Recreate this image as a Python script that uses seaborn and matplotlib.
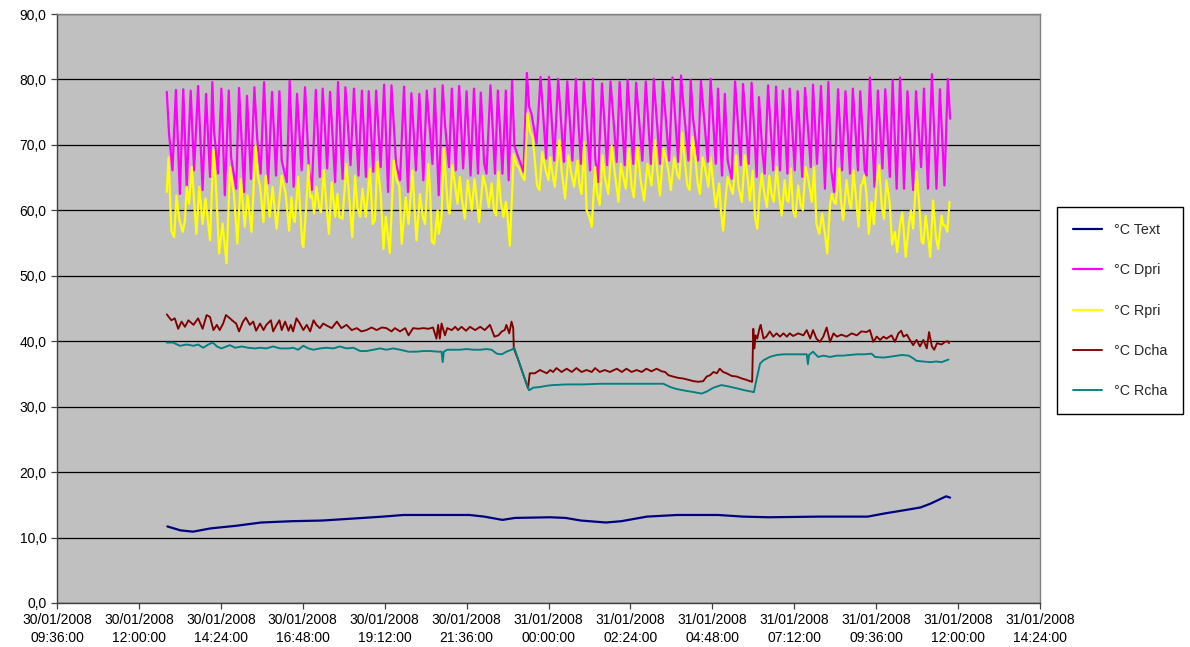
import pandas as pd
import matplotlib
matplotlib.use("Agg")
import matplotlib.pyplot as plt
import matplotlib.dates as mdates
from matplotlib.ticker import FuncFormatter
from matplotlib.lines import Line2D
import seaborn as sns

# Time origin: every time below is minutes after 30/01/2008 12:00:00
T0 = pd.Timestamp("2008-01-30 12:00:00")

SERIES = ["°C Text", "°C Dpri", "°C Rpri", "°C Dcha", "°C Rcha"]
COLORS = ["#000080", "#FF00FF", "#FFFF00", "#800000", "#008080"]
WIDTHS = [1.6, 1.6, 1.6, 1.35, 1.35]

# Outdoor temperature
TEXT = [(50, 11.7), (73, 11.1), (95, 10.9), (126, 11.4), (171, 11.8), (215, 12.3), (269, 12.5),
        (322, 12.6), (376, 12.9), (429, 13.2), (465, 13.45), (527, 13.45), (581, 13.45), (607, 13.2),
        (639, 12.7), (661, 13.0), (723, 13.1), (750, 13.0), (777, 12.6), (821, 12.3), (848, 12.5),
        (893, 13.2), (946, 13.45), (1018, 13.45), (1062, 13.2), (1107, 13.1), (1196, 13.2),
        (1281, 13.2), (1312, 13.7), (1347, 14.2), (1374, 14.6), (1392, 15.2), (1414, 16.1),
        (1419, 16.3), (1426, 16.1)]

# Primary circuit, supply
DPRI = [(49, 78.1), (53, 71.7), (59, 66.1), (65, 78.4), (72, 62.5), (78, 78.5), (84, 63.6), (91, 78.3),
        (97, 66.1), (104, 79.0), (112, 63.1), (118, 77.8), (125, 65.1), (129, 79.6), (132, 72.2),
        (139, 65.6), (145, 78.6), (151, 62.3), (158, 78.3), (162, 68.1), (171, 63.3), (176, 78.7),
        (185, 62.8), (190, 77.5), (197, 64.8), (203, 78.8), (208, 70.9), (214, 65.6), (220, 79.6),
        (227, 64.1), (234, 78.1), (241, 65.3), (247, 78.2), (251, 67.6), (260, 64.3), (265, 79.8),
        (272, 63.6), (278, 77.8), (286, 66.1), (292, 78.8), (299, 66.1), (304, 63.1), (311, 78.4),
        (318, 65.1), (323, 78.6), (331, 66.4), (336, 78.1), (345, 64.3), (350, 79.6), (353, 73.7),
        (358, 64.8), (363, 78.8), (372, 66.9), (378, 78.6), (386, 65.3), (392, 78.3), (399, 65.1),
        (404, 78.2), (412, 65.9), (417, 78.3), (425, 66.6), (431, 79.2), (438, 62.8), (444, 79.1),
        (452, 67.1), (459, 64.6), (466, 78.9), (473, 62.8), (479, 77.9), (487, 66.1), (493, 77.8),
        (500, 64.6), (506, 78.3), (516, 67.1), (520, 78.6), (527, 62.3), (534, 79.1), (538, 73.2),
        (545, 66.6), (550, 78.6), (557, 66.1), (563, 79.0), (570, 66.4), (576, 78.2), (583, 65.3),
        (589, 78.6), (596, 65.6), (601, 78.0), (607, 67.1), (611, 65.6), (618, 79.1), (626, 65.6),
        (631, 78.3), (639, 65.6), (645, 78.3), (650, 64.6), (656, 79.8), (660, 69.9), (667, 68.1),
        (676, 65.9), (682, 81.0), (686, 75.8), (690, 74.8), (699, 70.2), (706, 80.4), (716, 67.9),
        (721, 80.4), (730, 67.6), (737, 80.1), (747, 67.4), (753, 79.7), (762, 67.6), (768, 80.1),
        (777, 67.1), (782, 79.7), (787, 73.7), (793, 66.1), (798, 80.1), (802, 68.1), (807, 64.3),
        (814, 79.4), (823, 66.9), (829, 79.7), (840, 67.4), (845, 79.6), (854, 66.9), (859, 79.9),
        (869, 67.1), (874, 79.5), (885, 67.6), (891, 79.7), (900, 67.1), (905, 80.1), (916, 67.1),
        (921, 79.7), (932, 67.6), (938, 80.3), (948, 67.4), (953, 80.6), (958, 75.3), (966, 67.6),
        (970, 79.9), (974, 74.2), (983, 67.6), (988, 79.8), (1000, 67.4), (1005, 80.1), (1014, 67.1),
        (1018, 78.6), (1025, 65.3), (1030, 77.8), (1035, 67.6), (1042, 64.8), (1048, 79.7),
        (1058, 66.9), (1062, 79.3), (1072, 67.1), (1077, 79.5), (1086, 65.1), (1090, 77.3),
        (1096, 68.9), (1100, 65.6), (1106, 79.1), (1115, 66.1), (1120, 78.9), (1127, 66.1),
        (1132, 78.3), (1140, 65.6), (1144, 78.6), (1153, 66.1), (1158, 78.2), (1166, 65.1),
        (1171, 78.7), (1181, 66.6), (1185, 79.2), (1192, 67.1), (1199, 79.0), (1206, 63.3),
        (1212, 79.6), (1217, 66.1), (1222, 62.8), (1229, 78.5), (1236, 66.1), (1242, 78.2),
        (1250, 65.6), (1255, 78.6), (1264, 66.1), (1268, 78.2), (1276, 66.1), (1279, 65.3),
        (1285, 80.3), (1293, 63.6), (1299, 78.3), (1307, 66.4), (1312, 78.5), (1320, 65.1),
        (1325, 79.9), (1332, 63.3), (1338, 80.3), (1345, 63.3), (1351, 78.2), (1361, 63.1),
        (1366, 78.2), (1375, 66.6), (1380, 78.6), (1387, 63.3), (1394, 80.8), (1402, 63.3),
        (1408, 78.5), (1416, 63.8), (1422, 80.1), (1426, 74.0)]

# Primary circuit, return
RPRI = [(49, 62.8), (52, 68.1), (57, 56.9), (62, 55.9), (66, 62.3), (71, 58.5), (77, 56.7), (81, 58.5),
        (84, 63.6), (88, 61.0), (93, 66.6), (97, 61.5), (101, 56.4), (106, 63.6), (112, 57.9),
        (117, 61.8), (125, 55.4), (131, 69.2), (135, 64.6), (141, 53.4), (147, 58.0), (154, 51.9),
        (160, 66.6), (167, 62.5), (173, 54.9), (179, 64.8), (186, 57.5), (191, 62.3), (198, 56.7),
        (205, 69.9), (209, 65.3), (213, 63.6), (219, 58.2), (223, 65.3), (230, 59.0), (235, 63.6),
        (242, 57.2), (251, 65.3), (258, 62.5), (264, 56.9), (268, 62.0),
        (271, 59.0), (274, 58.2), (280, 65.1), (283, 61.0), (287, 54.9), (289, 54.4), (294, 60.5),
        (298, 66.9), (301, 62.0), (304, 62.3), (308, 59.5), (312, 63.6), (317, 60.5), (320, 59.7),
        (325, 66.1), (329, 61.5), (334, 56.4), (339, 64.3), (345, 59.0), (349, 62.5), (352, 59.0),
        (358, 58.7), (361, 62.5), (365, 67.1), (370, 61.5), (375, 55.9), (380, 65.3), (384, 60.5),
        (389, 59.0), (393, 63.3), (399, 59.0), (406, 66.4), (411, 57.9), (415, 58.5), (419, 67.4),
        (425, 62.5), (430, 54.1), (434, 59.0), (441, 53.5), (448, 67.6), (453, 64.6), (458, 63.6),
        (462, 54.9), (469, 62.0), (474, 57.9), (481, 66.1), (484, 61.0), (488, 55.4),
        (494, 62.5), (499, 59.0), (503, 57.9), (509, 67.1), (512, 62.5), (515, 55.2), (519, 54.9),
        (525, 60.0), (527, 56.4), (532, 59.0), (536, 69.4), (540, 64.1), (543, 60.5), (546, 59.5),
        (551, 66.9), (556, 63.6), (560, 61.0), (564, 65.1), (568, 61.5), (573, 58.7), (578, 64.6),
        (585, 60.0), (590, 64.8), (594, 61.5), (598, 58.2), (605, 65.3), (610, 63.6), (615, 60.5),
        (620, 64.1), (624, 60.0), (628, 59.2), (632, 65.9), (636, 61.5), (641, 59.0), (645, 61.3),
        (648, 59.0), (652, 54.6), (659, 68.6), (664, 66.9), (668, 66.6), (673, 65.3), (678, 64.6),
        (683, 74.8), (687, 72.2), (692, 71.2), (696, 67.6), (700, 63.8), (704, 63.1), (709, 68.9),
        (715, 66.1), (720, 64.6),
        (723, 68.1), (727, 65.6), (731, 63.6), (739, 70.7), (743, 66.1), (749, 61.8), (755, 68.4),
        (759, 66.1), (765, 63.6), (771, 67.6), (774, 64.1), (778, 62.5), (783, 70.4), (787, 60.0),
        (792, 59.0), (796, 57.5), (802, 66.6), (805, 62.8), (810, 60.8), (815, 68.4), (819, 65.1),
        (825, 62.5), (831, 69.9), (836, 66.1), (843, 61.3), (847, 67.1), (851, 65.3), (856, 63.3),
        (861, 69.4), (866, 63.6), (870, 62.0), (876, 69.7), (882, 64.6), (888, 61.5), (894, 67.1),
        (898, 65.1), (901, 63.8), (907, 70.7), (911, 66.1), (916, 62.3), (922, 69.4), (926, 68.1),
        (931, 65.9), (935, 63.1), (941, 68.1), (946, 65.6), (950, 64.8),
        (955, 71.9), (960, 67.1), (964, 63.8), (968, 63.1), (973, 71.2), (978, 68.1), (982, 64.3),
        (986, 62.5), (991, 68.1), (995, 66.6), (1001, 63.6), (1005, 68.1), (1010, 63.6), (1014, 60.5),
        (1020, 64.1), (1023, 60.0), (1027, 56.9), (1031, 61.5), (1035, 65.1), (1039, 63.8),
        (1044, 62.5), (1050, 68.4), (1054, 63.6), (1060, 61.3), (1065, 68.4), (1070, 65.1),
        (1074, 61.5), (1079, 66.1), (1083, 59.0), (1087, 57.2), (1091, 62.5), (1095, 65.6),
        (1099, 62.8), (1104, 60.5), (1108, 65.3), (1112, 62.5), (1116, 61.3), (1121, 66.6),
        (1125, 62.5), (1130, 59.2), (1135, 64.6), (1139, 61.5), (1142, 61.3), (1146, 66.4),
        (1150, 60.0), (1154, 59.0), (1159, 63.8), (1163, 61.0), (1167, 60.0), (1172, 66.6),
        (1177, 64.6),
        (1183, 61.3), (1187, 66.6), (1191, 57.9), (1196, 56.4), (1201, 59.5), (1206, 56.4),
        (1210, 53.4), (1215, 61.0), (1218, 62.5), (1222, 61.3), (1225, 61.0), (1231, 66.4),
        (1234, 61.5), (1238, 58.5), (1244, 64.6), (1249, 61.0), (1252, 60.3), (1256, 66.1),
        (1261, 61.5), (1265, 57.5), (1269, 63.8), (1272, 64.1), (1275, 65.3), (1279, 62.5),
        (1283, 56.4), (1288, 61.3), (1292, 57.9), (1297, 64.1), (1301, 66.9), (1306, 60.5),
        (1310, 58.7), (1314, 64.6), (1320, 61.0), (1324, 54.8), (1329, 56.7), (1333, 53.6),
        (1338, 57.9), (1342, 59.7), (1348, 52.9), (1354, 58.2), (1357, 60.0), (1361, 57.2),
        (1367, 65.9), (1372, 60.5), (1376, 55.2), (1379, 54.9), (1383, 59.2), (1386, 57.0),
        (1391, 52.9), (1396, 61.5), (1401, 55.9), (1405, 54.1), (1411, 59.2), (1414, 57.7),
        (1417, 57.7), (1421, 56.7), (1425, 61.3)]

# Heating circuit, supply
DCHA = [(49, 44.1), (57, 43.2), (63, 43.5), (69, 41.9), (75, 43.0), (81, 42.2), (87, 43.2), (96, 42.5),
        (104, 43.5), (112, 41.9), (119, 44.0), (125, 43.7), (131, 41.7), (137, 42.5), (142, 41.7),
        (148, 42.7), (153, 44.0), (160, 43.5), (165, 43.1), (171, 42.7), (176, 41.5), (183, 43.0),
        (188, 43.6), (195, 42.5), (201, 43.0), (206, 41.6), (213, 42.7), (219, 41.7), (224, 42.5),
        (232, 43.2), (236, 41.5), (242, 42.5), (247, 43.2), (251, 41.7), (257, 43.0), (263, 41.6),
        (267, 42.5), (271, 41.5), (277, 43.5), (283, 42.7), (289, 41.7), (295, 42.5), (301, 41.5),
        (307, 43.2), (312, 42.5), (318, 42.0), (324, 42.7), (330, 42.4), (339, 42.0), (348, 43.0),
        (356, 42.0), (365, 42.5), (374, 41.7), (383, 42.0), (391, 41.5), (400, 41.7), (409, 42.1),
        (418, 41.7), (427, 42.1), (435, 42.0), (444, 41.5), (450, 42.0), (459, 41.5), (468, 42.0),
        (474, 40.9), (482, 42.0), (491, 41.9), (500, 42.0), (509, 41.9), (517, 42.1), (523, 40.4),
        (526, 42.5), (529, 40.4), (532, 42.7), (538, 40.9), (542, 42.0), (550, 41.7), (556, 42.2),
        (561, 41.7), (567, 42.2), (575, 41.6), (582, 42.2), (591, 41.7), (600, 42.2), (608, 41.7),
        (617, 42.5), (625, 40.7), (632, 40.9), (638, 41.5), (643, 41.7), (646, 42.5), (651, 41.2),
        (655, 43.0), (658, 42.0), (659, 38.9), (667, 37.1), (676, 34.8), (684, 32.8), (687, 35.1),
        (696, 35.1), (705, 35.6), (717, 35.1), (723, 35.6), (728, 35.3), (734, 35.9), (743, 35.3),
        (752, 35.8), (761, 35.3), (769, 35.9), (778, 35.3), (787, 35.6), (796, 35.3), (802, 35.9),
        (810, 35.3), (819, 35.6), (828, 35.3), (840, 35.8), (849, 35.3), (857, 35.8), (866, 35.3),
        (875, 35.6), (884, 35.3), (892, 35.8), (901, 35.4), (910, 35.8), (919, 35.4), (925, 35.3),
        (931, 34.8), (939, 34.6), (948, 34.4), (957, 34.3), (966, 34.1), (975, 33.9), (983, 33.8),
        (992, 33.9), (998, 34.6), (1004, 34.8), (1010, 35.3), (1016, 35.1), (1021, 35.8), (1027, 35.3),
        (1033, 35.1), (1042, 34.7), (1051, 34.6), (1060, 34.3), (1068, 34.1), (1074, 33.9),
        (1078, 33.8), (1080, 41.9), (1082, 38.9), (1084, 40.9), (1087, 40.4), (1091, 42.0),
        (1093, 42.5), (1098, 40.4), (1103, 40.7), (1109, 41.5), (1115, 40.7), (1121, 41.2),
        (1127, 40.7), (1133, 41.2), (1139, 40.7), (1144, 41.2), (1150, 40.8), (1159, 41.2),
        (1168, 40.9), (1174, 41.7), (1180, 40.4), (1185, 41.7), (1191, 40.4), (1197, 39.9),
        (1203, 40.7), (1209, 42.1), (1215, 39.9), (1221, 41.2), (1227, 40.7), (1235, 41.0),
        (1244, 40.7), (1253, 41.2), (1262, 40.9), (1270, 41.5), (1279, 41.4), (1285, 41.7),
        (1291, 39.9), (1297, 40.7), (1303, 40.2), (1309, 40.7), (1314, 40.4), (1323, 40.9),
        (1329, 39.9), (1335, 41.2), (1340, 41.6), (1344, 40.7), (1350, 41.0), (1354, 40.4),
        (1361, 39.4), (1367, 40.2), (1373, 39.2), (1379, 40.2), (1385, 38.9), (1389, 41.4),
        (1394, 39.2), (1398, 38.7), (1403, 39.7), (1411, 39.5), (1417, 39.9), (1422, 40.0),
        (1424, 39.7)]

# Heating circuit, return
RCHA = [(49, 39.8), (60, 39.8), (72, 39.3), (84, 39.5), (96, 39.3), (104, 39.5), (113, 39.0), (122, 39.5),
        (130, 39.8), (137, 39.2), (145, 38.9), (154, 39.2), (160, 39.4), (169, 39.0), (181, 39.2),
        (192, 39.0), (204, 38.9), (213, 39.0), (224, 38.9), (236, 39.2), (248, 38.9), (263, 38.9),
        (271, 39.0), (280, 38.7), (289, 39.3), (298, 38.9), (307, 38.7), (318, 38.9), (330, 39.0),
        (342, 38.9), (353, 39.2), (365, 38.9), (377, 39.0), (389, 38.5), (400, 38.5), (412, 38.7),
        (424, 38.9), (435, 38.7), (447, 38.9), (459, 38.7), (474, 38.4), (488, 38.4), (500, 38.5),
        (512, 38.5), (526, 38.4), (532, 38.4), (534, 36.8), (536, 38.4), (542, 38.7), (553, 38.7),
        (564, 38.7), (576, 38.8), (588, 38.7), (600, 38.7), (611, 38.8), (620, 38.7), (629, 38.1),
        (638, 38.0), (646, 38.4), (655, 38.7), (660, 39.0), (667, 37.1), (676, 34.8), (686, 32.5),
        (693, 32.9), (705, 33.0), (717, 33.2), (728, 33.3), (752, 33.4), (781, 33.4), (810, 33.5),
        (840, 33.5), (869, 33.5), (898, 33.5), (922, 33.5), (934, 33.0), (945, 32.7), (963, 32.4),
        (977, 32.2), (989, 32.0), (998, 32.3), (1010, 32.9), (1024, 33.3), (1036, 33.1), (1051, 32.8),
        (1065, 32.5), (1077, 32.3), (1081, 32.2), (1086, 34.3), (1092, 36.6), (1098, 37.1),
        (1109, 37.6), (1121, 37.9), (1133, 38.0), (1144, 38.0), (1159, 38.0), (1174, 38.0),
        (1176, 36.5), (1178, 37.9), (1185, 38.4), (1194, 37.6), (1203, 37.8), (1215, 37.6),
        (1227, 37.8), (1238, 37.8), (1250, 37.9), (1262, 38.0), (1276, 38.0), (1288, 38.1),
        (1294, 37.6), (1309, 37.5), (1326, 37.7), (1341, 37.9), (1353, 37.8), (1361, 37.4),
        (1367, 37.0), (1379, 36.9), (1391, 36.8), (1402, 36.9), (1411, 36.8), (1423, 37.2)]

# Axis range and tick step (minutes after T0)
X_START, X_END, X_STEP = -144, 1584, 144
Y_TICKS = list(range(0, 91, 10))

frames = []
for name, pts in zip(SERIES, [TEXT, DPRI, RPRI, DCHA, RCHA]):
    minutes, temps = zip(*pts)
    frames.append(pd.DataFrame({
        "time": T0 + pd.to_timedelta(list(minutes), unit="min"),
        "temp": list(temps),
        "series": name,
    }))
df = pd.concat(frames, ignore_index=True)

sns.set_style("white")
plt.rcParams["font.family"] = ["Liberation Sans", "DejaVu Sans"]

W, H = 1190, 647
fig = plt.figure(figsize=(W / 100, H / 100), dpi=100)
fig.patch.set_facecolor("white")
ax = fig.add_axes([57 / W, 1 - 603 / H, (1040 - 57) / W, (603 - 14) / H])
ax.set_facecolor("#C0C0C0")

palette = dict(zip(SERIES, COLORS))
sns.lineplot(data=df, x="time", y="temp", hue="series", hue_order=SERIES,
             palette=palette, estimator=None, sort=False, linewidth=1.6,
             legend=False, ax=ax)
for line, lw in zip(ax.get_lines(), WIDTHS):
    line.set_linewidth(lw)

ax.set_xlim(T0 + pd.Timedelta(minutes=X_START), T0 + pd.Timedelta(minutes=X_END))
ax.set_xticks([T0 + pd.Timedelta(minutes=m) for m in range(X_START, X_END + 1, X_STEP)])
ax.xaxis.set_major_formatter(mdates.DateFormatter("%d/%m/%Y\n%H:%M:%S"))

ax.set_ylim(0, 90)
ax.set_yticks(Y_TICKS)
ax.yaxis.set_major_formatter(FuncFormatter(lambda v, _: f"{v:.1f}".replace(".", ",")))

ax.set_xlabel("")
ax.set_ylabel("")
ax.yaxis.grid(True, color="black", linewidth=0.9)
ax.xaxis.grid(False)
ax.set_axisbelow(True)

for side in ["left", "bottom"]:
    ax.spines[side].set_color("#404040")
    ax.spines[side].set_linewidth(1.0)
for side in ["top", "right"]:
    ax.spines[side].set_color("#808080")
    ax.spines[side].set_linewidth(1.0)

ax.tick_params(axis="both", which="major", direction="out", length=4.5, width=0.9,
               color="#404040", labelsize=10, labelcolor="black", pad=3)
ax.tick_params(axis="both", left=True, bottom=True)
for lbl in ax.get_xticklabels():
    lbl.set_horizontalalignment("center")
    lbl.set_linespacing(1.35)

handles = [Line2D([], [], color=c, linewidth=lw) for c, lw in zip(COLORS, WIDTHS)]
leg = fig.legend(handles, SERIES, loc="upper left",
                 bbox_to_anchor=(1057 / W, 1 - 207 / H), bbox_transform=fig.transFigure,
                 frameon=True, fancybox=False, shadow=False, framealpha=1,
                 edgecolor="black", facecolor="white", fontsize=10.3,
                 labelspacing=1.82, handlelength=2.0, handletextpad=0.8,
                 borderpad=1.15, borderaxespad=0)
leg.get_frame().set_linewidth(1.0)

fig.savefig("out.png", dpi=100, facecolor="white")
